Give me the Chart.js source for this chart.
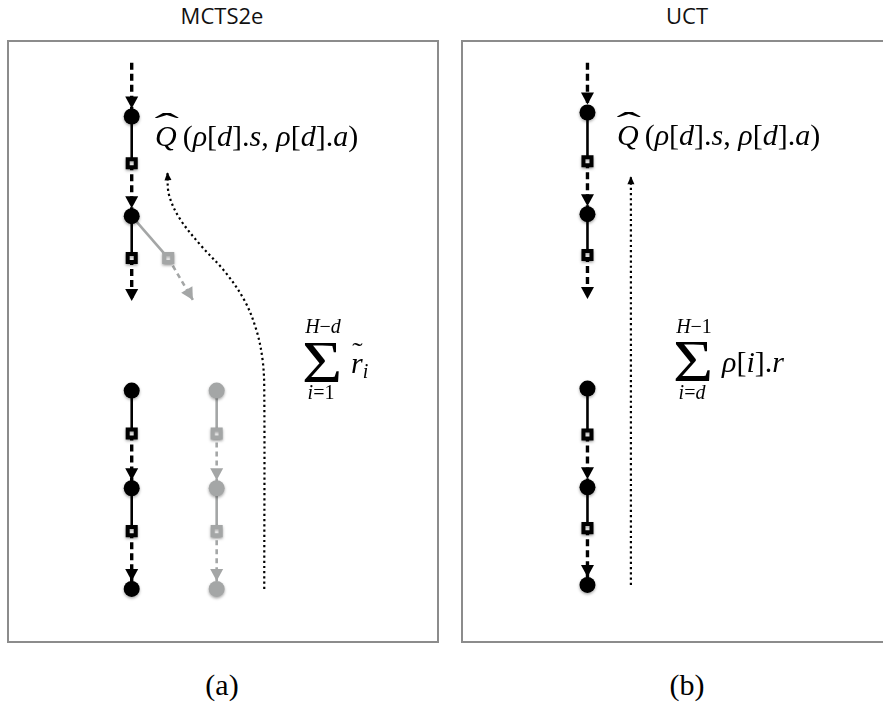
<!DOCTYPE html>
<html lang="en">
<head>
<meta charset="utf-8">
<title>MCTS2e and UCT backups</title>
<script src="https://cdn.jsdelivr.net/npm/chart.js@4.4.1/dist/chart.umd.min.js"></script>
<style>
  html, body { margin: 0; padding: 0; background: #fff; }
  body { position: relative; width: 883px; height: 704px; overflow: hidden; }
  .panel { position: absolute; top: 40px; height: 599px; border: 2px solid #8c8c8c; background: #fff; }
  #panelA { left: 7px; width: 428px; }
  #panelB { left: 461px; width: 448px; }
  .panel canvas { display: block; }
  .txt { position: absolute; white-space: nowrap; line-height: 1; color: #000;
         font-family: 'Liberation Serif', 'DejaVu Serif', serif; transform: translate(-50%, -50%); }
  .head { font-family: 'Open Sans', 'DejaVu Sans', sans-serif; font-size: 22px; color: #111; }
  .cap { font-size: 30px; }
  .m { font-size: 30px; transform: translate(0, -50%); }
  .small { font-size: 20px; }
  .sig { font-size: 60px; transform: translate(-50%, -50%) scaleX(1.15); }
  i { font-style: italic; }
  .acc { position: relative; display: inline-block; }
  .acc > b { position: absolute; left: 50%; font-weight: normal; font-style: normal; }
  .hat { top: -0.40em; transform: translateX(-42%) scaleX(2.3); font-size: 32px; }
  .tilde { top: -0.36em; transform: translateX(-45%) scaleX(1.2); font-size: 26px; }
  .gap { display: inline-block; width: 6px; }
  sub { font-size: 20px; vertical-align: -0.25em; }
</style>
</head>
<body>

<div class="txt head" style="left:222px; top:15px;">MCTS2e</div>
<div class="txt head" style="left:687px; top:15px;">UCT</div>

<div class="panel" id="panelA"><canvas id="mctsCanvas" width="428" height="599"></canvas></div>
<div class="panel" id="panelB"><canvas id="uctCanvas" width="448" height="599"></canvas></div>

<!-- value being backed up, MCTS2e -->
<div class="txt m" style="left:155px; top:136px;"><span class="acc"><i>Q</i><b class="hat">ˆ</b></span><span class="gap"></span>(<i>ρ</i>[<i>d</i>].<i>s</i>, <i>ρ</i>[<i>d</i>].<i>a</i>)</div>
<div class="txt small" style="left:323px; top:326px;"><i>H</i>−<i>d</i></div>
<div class="txt sig" style="left:322px; top:362px;">Σ</div>
<div class="txt small" style="left:321px; top:392px;"><i>i</i>=1</div>
<div class="txt m" style="left:351px; top:364px;"><span class="acc"><i>r</i><b class="tilde">˜</b></span><sub><i>i</i></sub></div>

<!-- value being backed up, UCT -->
<div class="txt m" style="left:617px; top:135px;"><span class="acc"><i>Q</i><b class="hat">ˆ</b></span><span class="gap"></span>(<i>ρ</i>[<i>d</i>].<i>s</i>, <i>ρ</i>[<i>d</i>].<i>a</i>)</div>
<div class="txt small" style="left:694px; top:326px;"><i>H</i>−1</div>
<div class="txt sig" style="left:693px; top:361px;">Σ</div>
<div class="txt small" style="left:692px; top:392px;"><i>i</i>=<i>d</i></div>
<div class="txt m" style="left:722px; top:362px;"><i>ρ</i>[<i>i</i>].<i>r</i></div>

<div class="txt cap" style="left:222px; top:685px;">(a)</div>
<div class="txt cap" style="left:687px; top:685px;">(b)</div>

<script>
// Layout units: x counts columns (0 = the descended path, 1 = the sibling rollout),
// y counts depth in tree steps and grows downwards.
const DEPTH_MIN = -0.65;
const DEPTH_MAX = 5.165;

// ---------- MCTS2e ----------
// descended path: entry edge, s, a, s, a, open end
const mctsUpperDepths = [-0.54, 0, 0.47, 1.0, 1.42, 1.85];
const upperKinds = ['entry', 'state', 'action', 'state', 'action', 'open'];
// deeper part of the path: s, a, s, a, s
const mctsLowerDepths = [2.75, 3.18, 3.73, 4.16, 4.74];
const lowerKinds = ['state', 'action', 'state', 'action', 'state'];
// branch leaving the second state towards the rollout
const mctsBranchCols = [0, 0.43, 0.72];
const mctsBranchDepths = [1.0, 1.42, 1.84];
const branchKinds = ['anchor', 'action', 'open'];
// rollout column
const mctsRolloutDepths = [2.75, 3.18, 3.73, 4.16, 4.74];
// backup path of the summed rollout rewards
const mctsBackupCols = [1.56, 1.56, 1.54, 1.47, 1.33, 1.10, 0.82, 0.57, 0.44, 0.42];
const mctsBackupDepths = [4.74, 2.73, 2.44, 2.15, 1.85, 1.56, 1.30, 1.03, 0.79, 0.56];

// ---------- UCT ----------
const uctUpperDepths = [-0.54, -0.04, 0.45, 0.98, 1.39, 1.83];
const uctLowerDepths = [2.73, 3.19, 3.72, 4.13, 4.70];
const uctBackupCols = [0.51, 0.51];
const uctBackupDepths = [4.70, 0.60];

const INK = '#000000';
const FADED = '#a4a6a6';

// One dataset per edge (solid: state -> action, dashed arrow: action -> next state),
// plus one dataset of circles for states and one of hollow squares for actions.
function chainDatasets(cols, depths, kinds, faded) {
  const color = faded ? FADED : INK;
  const pts = depths.map((y, i) => ({ x: Array.isArray(cols) ? cols[i] : cols, y }));
  const sets = [];
  for (let i = 0; i + 1 < pts.length; i++) {
    const solid = kinds[i] === 'state' || kinds[i] === 'anchor';
    sets.push({
      showLine: true,
      data: [pts[i], pts[i + 1]],
      borderColor: color,
      borderWidth: solid ? 2.6 : (faded ? 2.6 : 3.4),
      borderDash: solid ? [] : (faded ? [5, 4] : [7, 4]),
      pointRadius: 0,
      order: 2,
      arrow: solid ? null : { inset: kinds[i + 1] === 'state' ? 8 : 0, length: 12, width: 13 }
    });
  }
  sets.push({
    data: pts.filter((p, i) => kinds[i] === 'state'),
    pointStyle: 'circle', pointRadius: 8, backgroundColor: color, borderWidth: 0,
    order: 0, shadow: true
  });
  sets.push({
    data: pts.filter((p, i) => kinds[i] === 'action'),
    pointStyle: 'rect', pointRadius: 5.7, backgroundColor: '#ffffff', borderColor: color, borderWidth: 4,
    order: 0, shadow: true
  });
  return sets;
}

function backupDataset(cols, depths) {
  return {
    showLine: true,
    data: depths.map((y, i) => ({ x: cols[i], y })),
    borderColor: INK,
    borderWidth: 2.2,
    borderDash: [2.2, 3],
    tension: 0.35,
    pointRadius: 0,
    order: 3,
    arrow: { inset: 0, length: 8, width: 7 }
  };
}

// soft drop shadow under the nodes
const nodeShadow = {
  id: 'nodeShadow',
  beforeDatasetDraw(chart, args) {
    if (!chart.data.datasets[args.index].shadow) return;
    const ctx = chart.ctx;
    ctx.save();
    ctx.shadowColor = 'rgba(0,0,0,0.35)';
    ctx.shadowBlur = 3;
    ctx.shadowOffsetY = 1.5;
  },
  afterDatasetDraw(chart, args) {
    if (chart.data.datasets[args.index].shadow) chart.ctx.restore();
  }
};

// arrowhead at the end of every edge that carries an `arrow` spec
const arrowHeads = {
  id: 'arrowHeads',
  afterDatasetsDraw(chart) {
    const ctx = chart.ctx;
    chart.data.datasets.forEach((ds, i) => {
      if (!ds.arrow) return;
      const pts = chart.getDatasetMeta(i).data;
      const a = pts[pts.length - 2], b = pts[pts.length - 1];
      const dx = b.x - a.x, dy = b.y - a.y, len = Math.hypot(dx, dy) || 1;
      const ux = dx / len, uy = dy / len;
      const tx = b.x - ux * ds.arrow.inset, ty = b.y - uy * ds.arrow.inset;
      const bx = tx - ux * ds.arrow.length, by = ty - uy * ds.arrow.length;
      const w = ds.arrow.width / 2;
      ctx.save();
      ctx.fillStyle = ds.borderColor;
      ctx.beginPath();
      ctx.moveTo(tx, ty);
      ctx.lineTo(bx - uy * w, by + ux * w);
      ctx.lineTo(bx + uy * w, by - ux * w);
      ctx.closePath();
      ctx.fill();
      ctx.restore();
    });
  }
};

function makePanel(canvasId, datasets, xMin, xMax) {
  return new Chart(document.getElementById(canvasId), {
    type: 'scatter',
    data: { datasets },
    options: {
      responsive: false,
      animation: false,
      events: [],
      layout: { padding: 0 },
      plugins: { legend: { display: false }, tooltip: { enabled: false }, title: { display: false } },
      scales: {
        x: { type: 'linear', display: false, min: xMin, max: xMax },
        y: { type: 'linear', display: false, reverse: true, min: DEPTH_MIN, max: DEPTH_MAX }
      }
    },
    plugins: [nodeShadow, arrowHeads]
  });
}

makePanel('mctsCanvas', [
  ...chainDatasets(0, mctsUpperDepths, upperKinds, false),
  ...chainDatasets(0, mctsLowerDepths, lowerKinds, false),
  ...chainDatasets(mctsBranchCols, mctsBranchDepths, branchKinds, true),
  ...chainDatasets(1, mctsRolloutDepths, lowerKinds, true),
  backupDataset(mctsBackupCols, mctsBackupDepths)
], -1.33, 3.479);

makePanel('uctCanvas', [
  ...chainDatasets(0, uctUpperDepths, upperKinds, false),
  ...chainDatasets(0, uctLowerDepths, lowerKinds, false),
  backupDataset(uctBackupCols, uctBackupDepths)
], -1.348, 3.686);
</script>
</body>
</html>
